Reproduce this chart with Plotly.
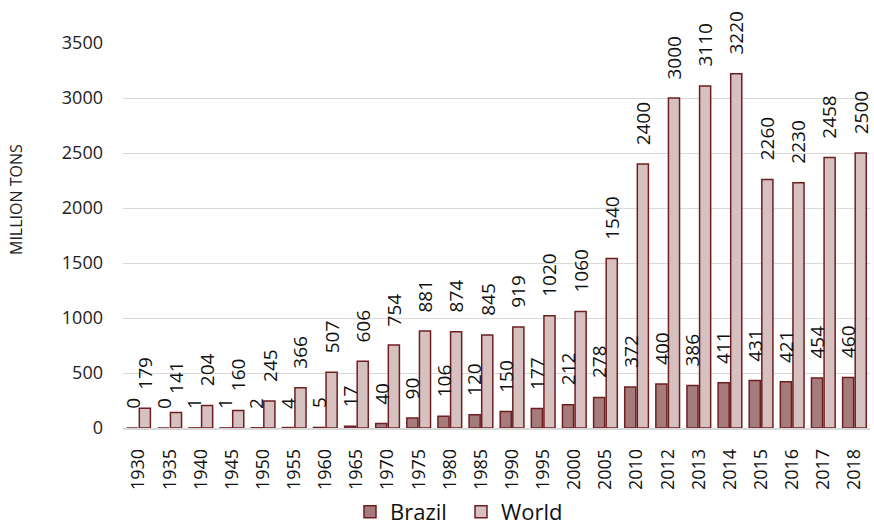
import plotly.graph_objects as go

years = ["1930", "1935", "1940", "1945", "1950", "1955", "1960", "1965", "1970",
         "1975", "1980", "1985", "1990", "1995", "2000", "2005", "2010", "2012",
         "2013", "2014", "2015", "2016", "2017", "2018"]
brazil = [0, 0, 1, 1, 2, 4, 5, 17, 40, 90, 106, 120, 150, 177, 212, 278, 372,
          400, 386, 411, 431, 421, 454, 460]
world = [179, 141, 204, 160, 245, 366, 507, 606, 754, 881, 874, 845, 919, 1020,
         1060, 1540, 2400, 3000, 3110, 3220, 2260, 2230, 2458, 2500]

FONT = "Open Sans"
EDGE = "#6e1f22"
W, H = 874, 528
ML, MR, MT, MB = 123, 4, 43, 100
BARGAP, GROUPGAP = 0.19, 0.12
PLOT_W, PLOT_H = W - ML - MR, H - MT - MB

fig = go.Figure()
fig.add_bar(x=years, y=brazil, name="Brazil",
            marker=dict(color="#a57b7b", line=dict(color=EDGE, width=1.5)))
fig.add_bar(x=years, y=world, name="World",
            marker=dict(color="#d7c0c0", line=dict(color=EDGE, width=1.5)))

# value labels sit a little above each bar, rotated upright;
# x is the category index so the label follows the category axis
cat_px = PLOT_W / len(years)
slot_px = cat_px * (1 - BARGAP) / 2
for series, side in ((brazil, -1), (world, 1)):
    for i, v in enumerate(series):
        fig.add_annotation(
            x=i, y=v, xref="x", yref="y", text=str(v), showarrow=False,
            textangle=-90, xanchor="center", yanchor="bottom",
            xshift=side * slot_px / 2, yshift=18, borderpad=0,
            font=dict(family=FONT, size=19, color="#111111"),
        )

# vertical axis caption, placed left of the tick labels
fig.add_annotation(
    text="MILLION TONS", xref="paper", yref="paper",
    x=(16 - ML) / PLOT_W, y=(H - MB - 200) / PLOT_H,
    xanchor="center", yanchor="middle", textangle=-90, showarrow=False,
    font=dict(family=FONT, size=16, color="#222222"),
)

fig.update_layout(
    width=W, height=H,
    margin=dict(l=ML, r=MR, t=MT, b=MB, autoexpand=False),
    paper_bgcolor="white", plot_bgcolor="white",
    barmode="group", bargap=BARGAP, bargroupgap=GROUPGAP,
    font=dict(family=FONT, size=18, color="#222222"),
    legend=dict(orientation="h", xanchor="left", x=(350 - ML) / PLOT_W,
                yref="paper", y=-(512 - (H - MB)) / PLOT_H, yanchor="middle",
                bgcolor="rgba(0,0,0,0)",
                font=dict(family=FONT, size=22, color="#111111"),
                itemwidth=30, entrywidth=66, entrywidthmode="pixels",
                tracegroupgap=0),
    showlegend=True,
)
fig.update_xaxes(
    type="category", categoryorder="array", categoryarray=years,
    range=[-0.5, len(years) - 0.5],
    tickangle=-90, showgrid=False, automargin=False,
    showline=True, linecolor="#d9d9d9", linewidth=1.5,
    ticks="", ticklabelstandoff=12,
    tickfont=dict(family=FONT, size=18, color="#111111"),
)
fig.update_yaxes(
    range=[0, 3500], dtick=500, showgrid=True, gridcolor="#d9d9d9", gridwidth=1.2,
    zeroline=False, showline=False, ticks="", automargin=False,
    ticklabelstandoff=19,
    tickfont=dict(family=FONT, size=18, color="#222222"),
)

fig.write_html("out.html")
